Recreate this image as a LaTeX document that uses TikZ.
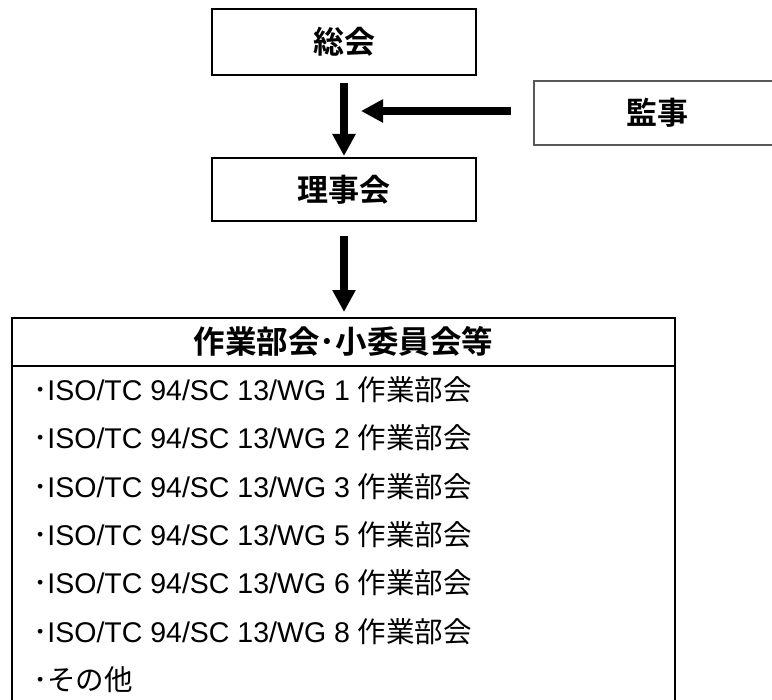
\documentclass[tikz,border=0pt]{standalone}
\usepackage{fontspec}
\setmainfont{Liberation Sans}
\newfontfamily\jp{Noto Sans CJK JP}[BoldFont={Noto Sans CJK JP Bold}]
\usetikzlibrary{arrows.meta}
\begin{document}
\begin{tikzpicture}[x=1bp,y=-1bp,
  box/.style={draw=black, line width=2bp, minimum width=264bp, inner sep=0,
    font=\jp\bfseries\fontsize{31bp}{31bp}\selectfont},
  arr/.style={line width=8bp, -{Triangle[width=22bp,length=22bp]}},
  itemtext/.style={anchor=base west, inner sep=0, font=\fontsize{28.5bp}{28.5bp}\selectfont},
  sepline/.style={line width=2bp}]
\path[clip, use as bounding box] (0,0) rectangle (772,700);
\fill[white] (0,0) rectangle (772,700);
% boxes
\node[box, minimum height=66bp] (sokai) at (344,42) {総会};
\node[box, minimum height=63bp] (riji) at (344,189.5) {理事会};
\node[box, draw=black!65, line width=1.2bp, minimum width=246bp, minimum height=64bp] (kanji) at (657,113) {監事};
\node[draw=black, line width=2bp, minimum width=663bp, minimum height=440bp, anchor=north, inner sep=0] (bukai) at (343.5,316.7) {};
\draw[sepline] ([yshift=-49bp]bukai.north west) -- ([yshift=-49bp]bukai.north east);
\node[inner sep=0, font=\jp\bfseries\fontsize{31.5bp}{31.5bp}\selectfont] (title) at (343.5,341) {作業部会･小委員会等};
% list
\node[itemtext] (i1) at (33,400.6) {{\jp ･}ISO/TC 94/SC 13/WG 1 {\jp 作業部会}};
\node[itemtext] (i2) at (33,448.9) {{\jp ･}ISO/TC 94/SC 13/WG 2 {\jp 作業部会}};
\node[itemtext] (i3) at (33,497.2) {{\jp ･}ISO/TC 94/SC 13/WG 3 {\jp 作業部会}};
\node[itemtext] (i4) at (33,545.5) {{\jp ･}ISO/TC 94/SC 13/WG 5 {\jp 作業部会}};
\node[itemtext] (i5) at (33,593.8) {{\jp ･}ISO/TC 94/SC 13/WG 6 {\jp 作業部会}};
\node[itemtext] (i6) at (33,642.1) {{\jp ･}ISO/TC 94/SC 13/WG 8 {\jp 作業部会}};
\node[itemtext] (i7) at (33,690.4) {{\jp ･その他}};
% arrows
\coordinate (hit) at (361,111);
\draw[arr, shorten <=7bp, shorten >=1bp] (sokai.south) -- (riji.north);
\draw[arr] (kanji.west |- hit) ++(-22,0) -- (hit);
\draw[arr, shorten <=14bp, shorten >=4.7bp] (riji.south) -- (riji.south |- bukai.north);
\end{tikzpicture}
\end{document}
